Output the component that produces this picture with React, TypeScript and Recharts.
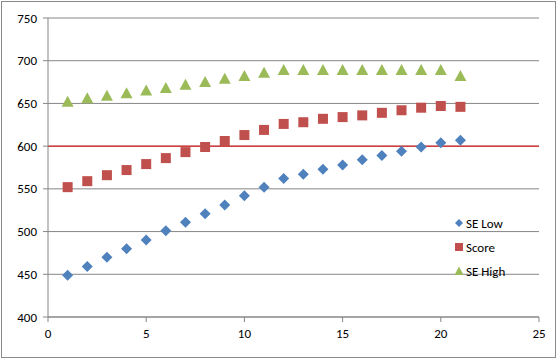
import { ScatterChart, Scatter, XAxis, YAxis, CartesianGrid, ReferenceLine } from "recharts";

// scatter of score with standard error band, Excel look

const xs = [1, 2, 3, 4, 5, 6, 7, 8, 9, 10, 11, 12, 13, 14, 15, 16, 17, 18, 19, 20, 21];
const seLow = [449, 459, 470, 480, 490, 501, 511, 521, 531, 542, 552, 562, 567, 573, 578, 584, 589, 594, 599, 604, 607];
const score = [552, 559, 566, 572, 579, 586, 593, 599, 606, 613, 619, 626, 628, 632, 634, 636, 639, 642, 645, 647, 646];
const seHigh = [652, 656, 659, 662, 665, 668, 672, 675, 679, 682, 686, 689, 689, 689, 689, 689, 689, 689, 689, 689, 682];

const xTicks = [0, 5, 10, 15, 20, 25];
const yTicks = [400, 450, 500, 550, 600, 650, 700, 750];
const target = 600;

const BLUE = "#4F81BD";
const RED = "#C0504D";
const GREEN = "#9BBB59";
const GRID = "#868686";
const FONT = "Carlito, Calibri, 'Liberation Sans', sans-serif";

const toPoints = (ys: number[]) => xs.map((x, i) => ({ x, y: ys[i] }));

const Diamond = (p: any) => (
  <path d={`M${p.cx},${p.cy - 5.5}L${p.cx + 5.5},${p.cy}L${p.cx},${p.cy + 5.5}L${p.cx - 5.5},${p.cy}Z`} fill={BLUE} />
);
const Square = (p: any) => <rect x={p.cx - 5} y={p.cy - 5} width={10} height={10} fill={RED} />;
const Triangle = (p: any) => (
  <path d={`M${p.cx},${p.cy - 6}L${p.cx + 6},${p.cy + 5}L${p.cx - 6},${p.cy + 5}Z`} fill={GREEN} />
);

const legendItems = [
  { name: "SE Low", kind: "diamond" },
  { name: "Score", kind: "square" },
  { name: "SE High", kind: "triangle" },
];

function LegendBox() {
  return (
    <div style={{ position: "absolute", left: 453, top: 211, fontFamily: FONT, fontSize: 13, color: "#000" }}>
      {legendItems.map((it) => (
        <div key={it.name} style={{ display: "flex", alignItems: "center", height: 24 }}>
          <svg width={12} height={12} style={{ marginRight: 1 }}>
            {it.kind === "diamond" && <path d="M6,2L10,6L6,10L2,6Z" fill={BLUE} />}
            {it.kind === "square" && <rect x={2} y={2} width={8} height={8} fill={RED} />}
            {it.kind === "triangle" && <path d="M6,1.5L10.5,10L1.5,10Z" fill={GREEN} />}
          </svg>
          <span>{it.name}</span>
        </div>
      ))}
    </div>
  );
}

export default function App() {
  return (
    <div style={{ position: "absolute", left: 0, top: 0, width: 557, height: 360, background: "#fff" }}>
      <ScatterChart width={557} height={360} margin={{ top: 18, right: 18, left: 0, bottom: 13 }}>
        <CartesianGrid vertical={false} stroke={GRID} />
        <XAxis
          type="number"
          dataKey="x"
          domain={[0, 25]}
          ticks={xTicks}
          height={30}
          stroke={GRID}
          tickSize={5}
          tickMargin={7}
          tick={{ fill: "#000", fontSize: 13, fontFamily: FONT }}
        />
        <YAxis
          type="number"
          dataKey="y"
          domain={[400, 750]}
          ticks={yTicks}
          width={48}
          stroke={GRID}
          tickSize={5}
          tickMargin={6}
          tick={{ fill: "#000", fontSize: 13, fontFamily: FONT }}
        />
        <ReferenceLine y={target} stroke="#E00000" strokeWidth={1} />
        <Scatter name="SE Low" data={toPoints(seLow)} shape={Diamond} isAnimationActive={false} />
        <Scatter name="Score" data={toPoints(score)} shape={Square} isAnimationActive={false} />
        <Scatter name="SE High" data={toPoints(seHigh)} shape={Triangle} isAnimationActive={false} />
      </ScatterChart>
      <LegendBox />
      <div
        style={{
          position: "absolute",
          left: 1,
          top: 1,
          width: 555,
          height: 357,
          border: "1px solid #8a8a8a",
          boxSizing: "border-box",
          pointerEvents: "none",
        }}
      />
    </div>
  );
}
